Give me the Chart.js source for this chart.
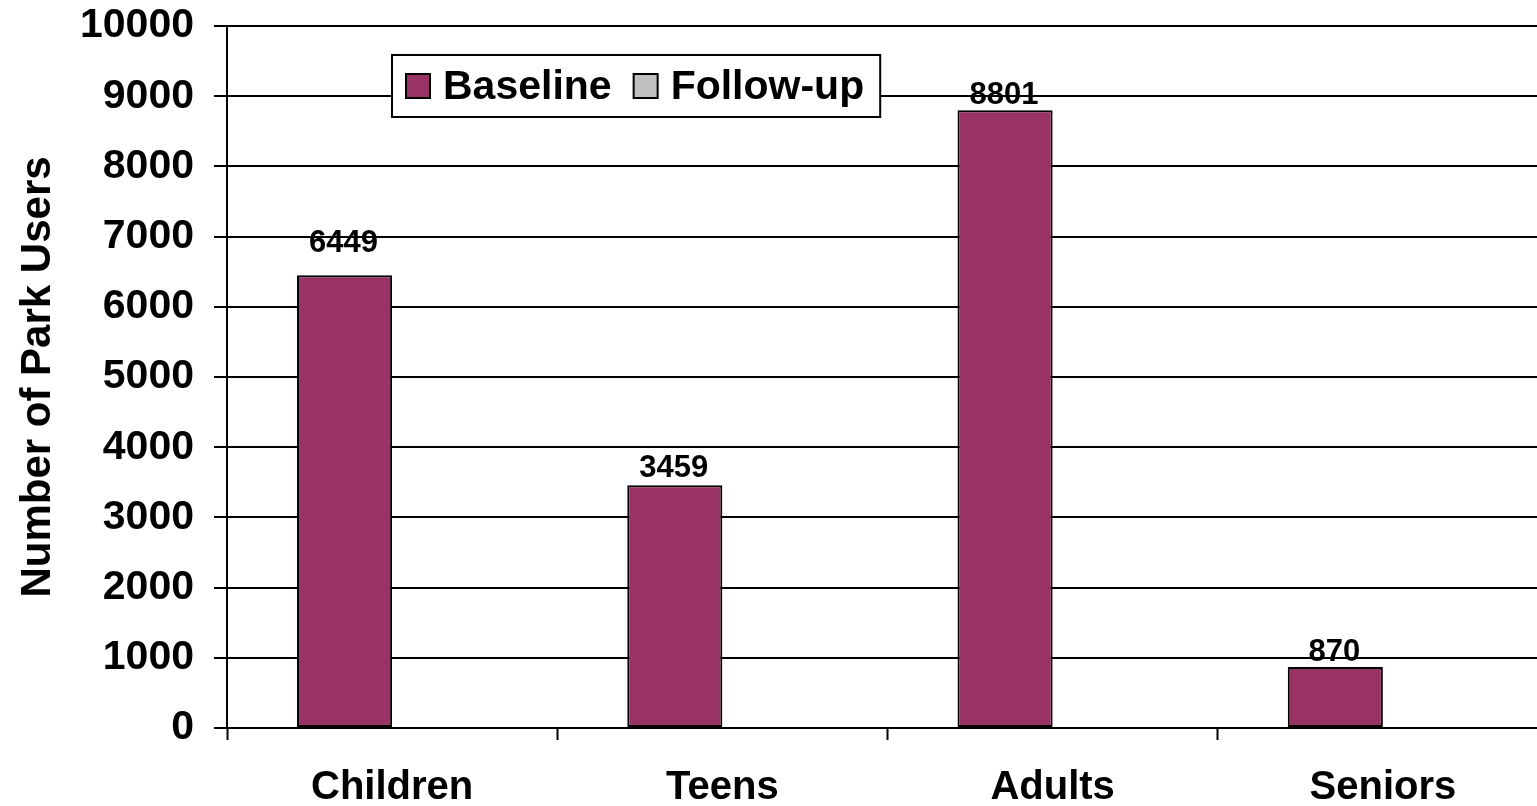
<!DOCTYPE html>
<html>
<head>
<meta charset="utf-8">
<title>Number of Park Users</title>
<script src="https://cdn.jsdelivr.net/npm/chart.js@4/dist/chart.umd.min.js"></script>
<style>
  html, body { margin: 0; padding: 0; background: #fff; overflow: hidden; }
  #wrap { width: 1548px; height: 806px; }
</style>
</head>
<body>
<div id="wrap"><canvas id="chart" width="1548" height="806"></canvas></div>
<script>
// Age groups and counts of park users
const categories = ['Children', 'Teens', 'Adults', 'Seniors'];
const baselineValues = [6449, 3459, 8801, 870];
const followUpValues = [null, null, null, null];
const seriesNames = ['Baseline', 'Follow-up'];
const yTicks = [0, 1000, 2000, 3000, 4000, 5000, 6000, 7000, 8000, 9000, 10000];

const FONT = '"Liberation Sans", Arial, sans-serif';
const PLUM = '#993366';
const GREY = '#C0C0C0';
// gap in px between each value label and its bar top
const labelGap = [23, 8, 6, 6];

// Writes each baseline value above its bar
const valueLabels = {
  id: 'valueLabels',
  afterDatasetsDraw(chart) {
    const ctx = chart.ctx;
    const meta = chart.getDatasetMeta(0);
    ctx.save();
    ctx.font = 'bold 31px ' + FONT;
    ctx.fillStyle = '#000';
    ctx.textAlign = 'center';
    ctx.textBaseline = 'alphabetic';
    meta.data.forEach((bar, i) => {
      const v = chart.data.datasets[0].data[i];
      if (v == null) return;
      ctx.fillText(String(v), bar.x - 1, bar.y - labelGap[i]);
    });
    ctx.restore();
  }
};

// Boxed legend placed inside the plot area
const boxedLegend = {
  id: 'boxedLegend',
  afterDraw(chart) {
    const ctx = chart.ctx;
    const area = chart.chartArea;
    const left = area.left + 165;
    const top = area.top + 29;
    const height = 62;
    const marker = 24;
    ctx.save();
    ctx.font = 'bold 41px ' + FONT;
    const items = chart.data.datasets.map(ds => ({
      text: ds.label, color: ds.backgroundColor, w: ctx.measureText(ds.label).width
    }));
    let width = 14;
    items.forEach((it, i) => { width += marker + 13 + it.w + (i < items.length - 1 ? 22 : 16); });
    ctx.fillStyle = '#fff';
    ctx.fillRect(left, top, width, height);
    ctx.lineWidth = 2;
    ctx.strokeStyle = '#000';
    ctx.strokeRect(left, top, width, height);
    let x = left + 14;
    const cy = top + height / 2;
    items.forEach(it => {
      ctx.fillStyle = it.color;
      ctx.fillRect(x, cy - marker / 2, marker, marker);
      ctx.lineWidth = 2;
      ctx.strokeRect(x, cy - marker / 2, marker, marker);
      x += marker + 13;
      ctx.fillStyle = '#000';
      ctx.textAlign = 'left';
      ctx.textBaseline = 'middle';
      ctx.fillText(it.text, x, cy + 2);
      x += it.w + 22;
    });
    ctx.restore();
  }
};

new Chart(document.getElementById('chart'), {
  type: 'bar',
  data: {
    labels: categories,
    datasets: [
      {
        label: seriesNames[0],
        data: baselineValues,
        backgroundColor: PLUM,
        borderColor: '#000',
        borderWidth: 2,
        borderSkipped: false,
        categoryPercentage: 0.576,
        barPercentage: 1.0
      },
      {
        label: seriesNames[1],
        data: followUpValues,
        backgroundColor: GREY,
        borderColor: '#000',
        borderWidth: 2,
        borderSkipped: false,
        categoryPercentage: 0.576,
        barPercentage: 1.0
      }
    ]
  },
  options: {
    responsive: false,
    animation: false,
    events: [],
    layout: { padding: { top: 26, left: 0, right: 0, bottom: 0 } },
    plugins: {
      legend: { display: false },
      tooltip: { enabled: false },
      title: { display: false }
    },
    scales: {
      x: {
        offset: true,
        grid: {
          display: true,
          offset: true,
          drawOnChartArea: false,
          drawTicks: true,
          tickLength: 12,
          tickWidth: 2,
          tickColor: '#000'
        },
        border: { display: true, color: '#000', width: 2 },
        ticks: {
          color: '#000',
          font: { family: FONT, size: 40, weight: 'bold' },
          padding: 24,
          maxRotation: 0,
          autoSkip: false
        },
        afterFit(scale) {
          scale.height = 78;
          scale.paddingLeft = 0;
          scale.paddingRight = 0;
        }
      },
      y: {
        min: 0,
        max: 10000,
        afterBuildTicks(scale) { scale.ticks = yTicks.map(v => ({ value: v })); },
        grid: {
          color: '#000',
          lineWidth: 2,
          drawTicks: true,
          tickLength: 13,
          tickColor: '#000',
          tickWidth: 2
        },
        border: { display: true, color: '#000', width: 2 },
        ticks: {
          color: '#000',
          font: { family: FONT, size: 41, weight: 'bold' },
          padding: 20,
          callback: v => String(v)
        },
        title: {
          display: true,
          text: 'Number of Park Users',
          color: '#000',
          font: { family: FONT, size: 42, weight: 'bold' },
          padding: { top: 13, bottom: 0 }
        },
        afterFit(scale) {
          scale.width = 227;
          scale.paddingTop = 0;
          scale.paddingBottom = 0;
        }
      }
    }
  },
  plugins: [valueLabels, boxedLegend]
});
</script>
</body>
</html>
